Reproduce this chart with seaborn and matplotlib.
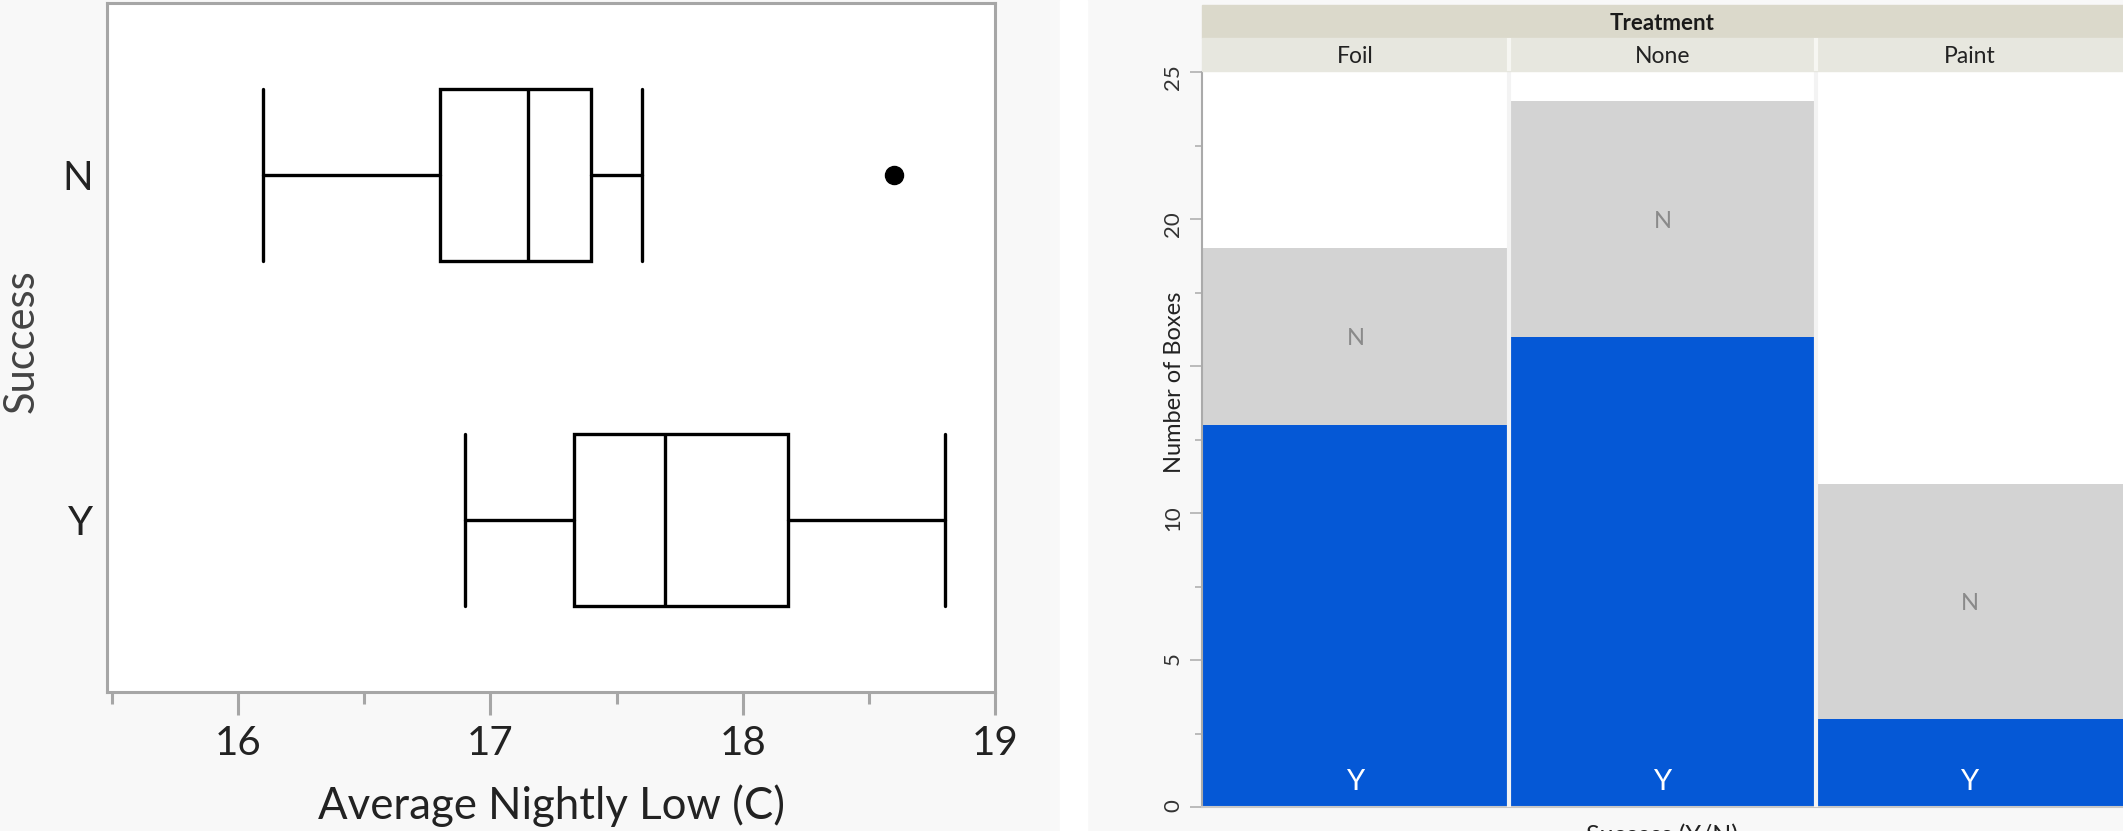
import matplotlib
matplotlib.use('Agg')
import matplotlib.pyplot as plt
import seaborn as sns
import pandas as pd
from matplotlib.patches import Rectangle
from matplotlib.transforms import blended_transform_factory

# ---------------- data ----------------
success_groups = ['N', 'Y']
whisker_low = [16.1, 16.9]
quartile_1 = [16.8, 17.33]
medians = [17.15, 17.69]
quartile_3 = [17.4, 18.18]
whisker_high = [17.6, 18.8]
outliers = [[18.6], []]

treatments = ['Foil', 'None', 'Paint']
count_y = [13, 16, 3]
count_n = [6, 8, 8]

x_major = [16, 17, 18, 19]
x_minor = [15.5, 16.5, 17.5, 18.5]
y_major = [0, 5, 10, 15, 20, 25]
y_major_labels = ['0', '5', '10', '', '20', '25']
y_minor = [2.5, 7.5, 12.5, 17.5, 22.5]

# ---------------- style ----------------
sns.set_theme(style='white')
plt.rcParams['font.family'] = ['Lato', 'DejaVu Sans']

W, H = 2123, 831
fig = plt.figure(figsize=(W / 100, H / 100), dpi=100, facecolor='#f8f8f8')


def fx(px):
    return px / W


def fy(py):
    return 1 - py / H


fig.add_artist(Rectangle((fx(1060), 0), fx(1087) - fx(1060), 1,
                         transform=fig.transFigure, color='white', zorder=0))

# ---------------- left: box plot ----------------
axL = fig.add_axes([fx(107), fy(692), fx(995) - fx(107), fy(3) - fy(692)])
axL.set_facecolor('white')
stats = []
for g, lo, a, m, b, hi, fl in zip(success_groups, whisker_low, quartile_1, medians,
                                 quartile_3, whisker_high, outliers):
    stats.append(dict(label=g, whislo=lo, q1=a, med=m, q3=b, whishi=hi, fliers=fl))

lw = 2.4
kw = dict(positions=list(range(len(success_groups))), widths=0.5, capwidths=0.5,
          patch_artist=True, showfliers=True,
          boxprops=dict(facecolor='white', edgecolor='black', linewidth=lw),
          medianprops=dict(color='black', linewidth=lw),
          whiskerprops=dict(color='black', linewidth=lw),
          capprops=dict(color='black', linewidth=lw),
          flierprops=dict(marker='o', markerfacecolor='black', markeredgecolor='black',
                          markersize=13))
try:
    axL.bxp(stats, orientation='horizontal', **kw)
except TypeError:
    axL.bxp(stats, vert=False, **kw)

axL.set_xlim(15.48, 19.0)
axL.set_ylim(len(success_groups) - 0.5, -0.5)
axL.set_xticks(x_major)
axL.set_xticklabels([str(v) for v in x_major])
axL.set_xticks(x_minor, minor=True)
axL.set_yticks(range(len(success_groups)))
axL.set_yticklabels(success_groups)
axL.tick_params(axis='x', which='major', bottom=True, length=16.5, width=2.2,
                color='#a6a6a6', labelsize=29, labelcolor='#222222', pad=7)
axL.tick_params(axis='x', which='minor', bottom=True, length=8.6, width=2.2,
                color='#a6a6a6')
axL.tick_params(axis='y', left=False, length=0, pad=10, labelsize=29,
                labelcolor='#222222')
for s in axL.spines.values():
    s.set_color('#a6a6a6')
    s.set_linewidth(2.2)
    s.set_visible(True)
axL.set_xlabel('Average Nightly Low (C)', fontsize=31.5, color='#222222', labelpad=16)
axL.set_ylabel('Success', fontsize=30, color='#444444')
axL.yaxis.label.set_va('center')
axL.yaxis.set_label_coords(-0.0957, 0.509)

# ---------------- right: stacked bars ----------------
axR = fig.add_axes([fx(1202), fy(807), fx(2123) - fx(1202), fy(72) - fy(807)])
axR.set_facecolor('white')
df = pd.DataFrame({'Treatment': treatments, 'Y': count_y, 'N': count_n})
df['Total'] = df['Y'] + df['N']

sns.barplot(data=df, x='Treatment', y='Total', color='#d3d3d3', saturation=1,
            width=1, errorbar=None, linewidth=0, ax=axR)
sns.barplot(data=df, x='Treatment', y='Y', color='#0558d6', saturation=1,
            width=1, errorbar=None, linewidth=0, ax=axR)

axR.set_xlim(-0.5, len(treatments) - 0.5)
axR.set_ylim(0, 25)
for i in range(len(treatments) - 1):
    axR.axvline(i + 0.5, color='#f3f3f3', lw=3, zorder=5)

for i, (yv, nv) in enumerate(zip(count_y, count_n)):
    axR.text(i, yv + nv / 2, 'N', color='#8a8a8a', fontsize=17, ha='center',
             va='center_baseline', zorder=6)
    axR.text(i, 0.92, 'Y', color='white', fontsize=21, ha='center',
             va='center_baseline', zorder=6)

axR.set_xticks([])
axR.set_xlabel('')
axR.set_yticks(y_major)
axR.set_yticklabels(y_major_labels)
axR.set_yticks(y_minor, minor=True)
axR.tick_params(axis='y', which='major', left=True, length=8.6, width=1.1,
                color='#aaaaaa', labelsize=16, labelcolor='#333333',
                labelrotation=90, pad=5)
axR.tick_params(axis='y', which='minor', left=True, length=5, width=1.1,
                color='#aaaaaa')
axR.spines['top'].set_visible(False)
axR.spines['right'].set_visible(False)
axR.spines['left'].set_color('#aaaaaa')
axR.spines['left'].set_linewidth(1.5)
axR.spines['bottom'].set_color('#c8c8c8')
axR.spines['bottom'].set_linewidth(1.5)
axR.set_ylabel('Number of Boxes', fontsize=17, color='#222222')
axR.yaxis.label.set_va('center')
axR.yaxis.set_label_coords(-0.0304, 0.578)

# header bands
trA = blended_transform_factory(axR.transAxes, fig.transFigure)
trD = blended_transform_factory(axR.transData, fig.transFigure)
fig.add_artist(Rectangle((0, fy(38)), 1, fy(5) - fy(38), transform=trA,
                         color='#dbd9cb', clip_on=False))
fig.text(0.5, (fy(5) + fy(38)) / 2, 'Treatment', transform=trA, ha='center',
         va='center_baseline', fontsize=16, fontweight='bold', color='#1a1a1a')
for i, t in enumerate(treatments):
    fig.add_artist(Rectangle((i - 0.5, fy(71)), 1, fy(38) - fy(71), transform=trD,
                             color='#e7e7df', clip_on=False))
    fig.text(i, (fy(38) + fy(71)) / 2, t, transform=trD, ha='center',
             va='center_baseline', fontsize=16.5, color='#222222')
for i in range(len(treatments) - 1):
    fig.add_artist(Rectangle((i + 0.5, fy(71)), 0, fy(38) - fy(71), transform=trD,
                             edgecolor='#f6f6f2', linewidth=3, clip_on=False))

fig.text(0.5, fy(824), 'Success (Y/N)', transform=trA, ha='center', va='top',
         fontsize=18, color='#222222')

fig.savefig('out.png', dpi=100, facecolor=fig.get_facecolor())
